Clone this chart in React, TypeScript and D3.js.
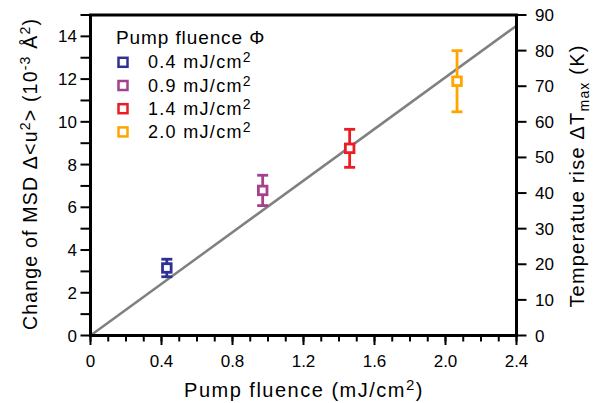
import React from "react";
import * as d3 from "d3";

const fluence = [0.43, 0.97, 1.46, 2.065];
const msd = [3.16, 6.79, 8.76, 11.9];
const msdErr = [0.41, 0.71, 0.89, 1.43];
const colors = ["#2E3192", "#A3418F", "#EC1C24", "#FFA500"];
const legendLabels = ["0.4", "0.9", "1.4", "2.0"];
const fitLine = [[0, 0], [2.4, 14.5]];
const xMajor = [0, 0.4, 0.8, 1.2, 1.6, 2.0, 2.4];
const yMajor = [0, 2, 4, 6, 8, 10, 12, 14];
const yRightTicks = [0, 10, 20, 30, 40, 50, 60, 70, 80, 90];

const W = 602, H = 403;
const L = 90.5, R = 516.5, T = 15, B = 335.5;
const FONT = "'Liberation Sans', Arial, Helvetica, sans-serif";

export default function App() {
  const x = d3.scaleLinear().domain([0, 2.4]).range([L, R]);
  const y = d3.scaleLinear().domain([0, 15]).range([B, T]);
  const y2 = d3.scaleLinear().domain([0, 90]).range([B, T]);
  const xMinor = d3.range(0, 25).map((i) => i / 10);
  const yMinor = d3.range(0, 16);
  const line = d3.line<number[]>().x((d) => x(d[0])).y((d) => y(d[1]));

  return (
    <svg width={W} height={H} style={{ position: "absolute", left: 0, top: 0, background: "#fff" }} fontFamily={FONT}>
      {/* minor ticks */}
      {xMinor.map((v, i) => (
        <line key={"xm" + i} x1={x(v)} x2={x(v)} y1={B} y2={B + 6} stroke="#000" strokeWidth={2} />
      ))}
      {xMajor.map((v, i) => (
        <line key={"xM" + i} x1={x(v)} x2={x(v)} y1={B} y2={B + 9.5} stroke="#000" strokeWidth={2} />
      ))}
      {yMinor.map((v, i) => (
        <line key={"ym" + i} x1={L - 10} x2={L} y1={y(v)} y2={y(v)} stroke="#000" strokeWidth={2} />
      ))}
      {yRightTicks.map((v, i) => (
        <line key={"yr" + i} x1={R} x2={R + 10} y1={y2(v)} y2={y2(v)} stroke="#000" strokeWidth={2} />
      ))}
      {/* fit line */}
      <path d={line(fitLine) || ""} stroke="#808080" strokeWidth={2.5} fill="none" />
      {/* frame */}
      <rect x={L} y={T} width={R - L} height={B - T} fill="none" stroke="#000" strokeWidth={3} />
      {/* tick labels */}
      {xMajor.map((v, i) => (
        <text key={"xl" + i} x={x(v)} y={367} textAnchor="middle" fontSize={17}>
          {v === 0 ? "0" : v.toFixed(1)}
        </text>
      ))}
      {yMajor.map((v, i) => (
        <text key={"yl" + i} x={77} y={y(v) + 6} textAnchor="end" fontSize={17}>
          {v}
        </text>
      ))}
      {yRightTicks.map((v, i) => (
        <text key={"y2l" + i} x={535} y={y2(v) + 6} textAnchor="start" fontSize={17}>
          {v}
        </text>
      ))}
      {/* data */}
      {fluence.map((f, i) => {
        const cx = x(f);
        const top = y(msd[i] + msdErr[i]);
        const bot = y(msd[i] - msdErr[i]);
        return (
          <g key={"p" + i} stroke={colors[i]} strokeWidth={2.8}>
            <line x1={cx} x2={cx} y1={top} y2={bot} />
            <line x1={cx - 5.5} x2={cx + 5.5} y1={top} y2={top} />
            <line x1={cx - 5.5} x2={cx + 5.5} y1={bot} y2={bot} />
            <rect x={cx - 4.3} y={y(msd[i]) - 4.3} width={8.6} height={8.6} fill="#fff" />
          </g>
        );
      })}
      {/* legend */}
      <text x={116} y={44} fontSize={19} letterSpacing={0.9}>Pump fluence Φ</text>
      {legendLabels.map((lab, i) => {
        const cy = 62.3 + i * 23.2;
        return (
          <g key={"lg" + i}>
            <rect x={123 - 4.5} y={cy - 4.5} width={9} height={9} fill="#fff" stroke={colors[i]} strokeWidth={2.5} />
            <text x={148} y={cy + 6} fontSize={18} letterSpacing={1.3}>
              {lab} mJ/cm<tspan fontSize={14} dy={-6}>2</tspan>
            </text>
          </g>
        );
      })}
      {/* axis titles */}
      <text x={304} y={397} textAnchor="middle" fontSize={20} letterSpacing={1.5}>
        Pump fluence (mJ/cm<tspan fontSize={15} dy={-7}>2</tspan><tspan dy={7}>)</tspan>
      </text>
      <text transform="translate(37,174) rotate(-90)" textAnchor="middle" fontSize={19.5} letterSpacing={1.2}>
        Change of MSD Δ&lt;u<tspan fontSize={14} dy={-7}>2</tspan><tspan dy={7}>&gt; (10</tspan><tspan fontSize={14} dy={-7}>-3</tspan><tspan dy={7}> Å</tspan><tspan fontSize={14} dy={-7}>2</tspan><tspan dy={7}>)</tspan>
      </text>
      <text transform="translate(584,176) rotate(-90)" textAnchor="middle" fontSize={20} letterSpacing={1.2}>
        Temperatue rise ΔT<tspan fontSize={14} dy={5}>max</tspan><tspan dy={-5}> (K)</tspan>
      </text>
    </svg>
  );
}
